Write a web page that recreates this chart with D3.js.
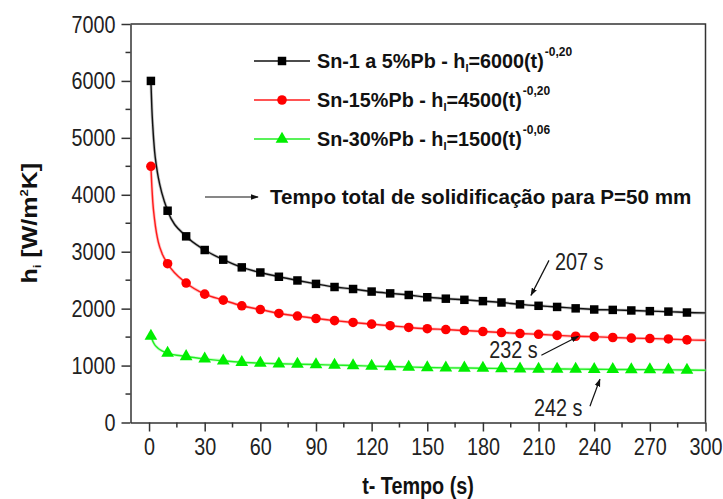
<!DOCTYPE html>
<html><head><meta charset="utf-8">
<script src="https://cdn.jsdelivr.net/npm/d3@7"></script>
<style>
body{margin:0;background:#fff}
svg{display:block}
text{font-family:"Liberation Sans",Arial,sans-serif}
</style>
</head><body>
<svg id="chart" width="723" height="499"></svg>
<script>
// ---- data ----
const times = [1,10,20,30,40,50,60,70,80,90,100,110,120,130,140,150,160,170,180,190,200,210,220,230,240,250,260,270,280,290];
const sn5  = [6000,3720,3270,3030,2860,2725,2635,2560,2495,2435,2380,2345,2300,2268,2240,2200,2175,2155,2132,2108,2075,2050,2030,2005,1985,1978,1968,1956,1948,1932];
const sn15 = [4500,2790,2450,2255,2150,2050,1984,1915,1870,1826,1790,1757,1728,1700,1670,1648,1633,1615,1598,1580,1563,1550,1530,1515,1508,1493,1482,1475,1468,1452];
const sn30 = [1520,1220,1160,1118,1085,1058,1043,1031,1025,1018,1008,1001,990,983,975,966,960,958,954,948,943,940,940,938,935,932,930,929,925,922];
// fitted-curve samples in the steep early part and at the right edge
const fitTimes = [1,1.5,2,3,4,5,7];
const fitSn5  = [6000,5530,5210,4760,4500,4300,4020];
const fitSn15 = [4500,4150,3880,3560,3330,3170,2970];
const fitSn30 = [1520,1470,1430,1370,1330,1300,1260];
const endTime = 300;
const endValues = [1925,1445,918];

const xTicks = [0,30,60,90,120,150,180,210,240,270,300];
const xMinor = [15,45,75,105,135,165,195,225,255,285];
const yTicks = [0,1000,2000,3000,4000,5000,6000,7000];
const yMinor = [500,1500,2500,3500,4500,5500,6500];

const seriesLabels = ["Sn-1 a 5%Pb - h","Sn-15%Pb - h","Sn-30%Pb - h"];
const seriesCoefs = ["=6000(t)","=4500(t)","=1500(t)"];
const seriesExps = ["-0,20","-0,20","-0,06"];
const seriesColors = ["#000000","#ff0000","#00ee00"];
const lineColors = ["#111111","#ff1a1a","#22ee22"];
const haloColors = ["#9a9a9a","#ff9a9a","#a8ffa8"];
const markerShapes = [d3.symbolSquare, d3.symbolCircle, d3.symbolTriangle];

const noteText = "Tempo total de solidificação para P=50 mm";
const annTimes = [207,232,242];
const annLabels = ["207 s","232 s","242 s"];

// ---- layout ----
const svg = d3.select("#chart");
const L = 130.5, R = 705.5, T = 24, B = 422.5;
const x = d3.scaleLinear().domain([-10,300]).range([L,R]);
const y = d3.scaleLinear().domain([0,7000]).range([B,T]);
const axisColor = "#333";
const SX = 0.86;

// frame (top & right)
svg.append("path").attr("d",`M${L},${T}H${R}V${B}`).attr("fill","none").attr("stroke",axisColor).attr("stroke-width",1.5);

// x axis
const gx = svg.append("g").attr("transform",`translate(0,${B})`)
  .call(d3.axisBottom(x).tickValues(xTicks).tickSize(9).tickPadding(7).tickFormat(d3.format("d")).tickSizeOuter(0));
gx.select(".domain").attr("stroke",axisColor).attr("stroke-width",1.5);
gx.selectAll(".tick line").attr("stroke",axisColor).attr("stroke-width",1.5);
gx.selectAll(".tick text").attr("font-size",23).attr("fill","#222")
  .attr("font-family","Liberation Sans, Arial, sans-serif")
  .attr("transform",`scale(${SX},1)`);
gx.selectAll(".minor").data(xMinor).enter().append("line")
  .attr("x1",d=>x(d)).attr("x2",d=>x(d)).attr("y1",0).attr("y2",5)
  .attr("stroke",axisColor).attr("stroke-width",1.5);

// y axis
const gy = svg.append("g").attr("transform",`translate(${L},0)`)
  .call(d3.axisLeft(y).tickValues(yTicks).tickSize(9).tickPadding(7).tickFormat(d3.format("d")).tickSizeOuter(0));
gy.select(".domain").attr("stroke",axisColor).attr("stroke-width",1.5);
gy.selectAll(".tick line").attr("stroke",axisColor).attr("stroke-width",1.5);
gy.selectAll(".tick text").attr("font-size",23).attr("fill","#222")
  .attr("font-family","Liberation Sans, Arial, sans-serif")
  .attr("x",-15/SX).attr("dy","0.35em")
  .attr("transform",`scale(${SX},1)`);
gy.selectAll(".minor").data(yMinor).enter().append("line")
  .attr("x1",0).attr("x2",-5).attr("y1",d=>y(d)).attr("y2",d=>y(d))
  .attr("stroke",axisColor).attr("stroke-width",1.5);

// series
const seriesVals = [sn5, sn15, sn30];
const fitVals = [fitSn5, fitSn15, fitSn30];
const line = d3.line().x(d=>x(d[0])).y(d=>y(d[1])).curve(d3.curveMonotoneX);
seriesVals.forEach((vals,i)=>{
  const pts = fitTimes.map((t,j)=>[t,fitVals[i][j]])
    .concat(times.slice(1).map((t,j)=>[t,vals[j+1]]))
    .concat([[endTime,endValues[i]]]);
  svg.append("path").datum(pts).attr("d",line).attr("fill","none")
    .attr("stroke",haloColors[i]).attr("stroke-width",3).attr("stroke-opacity",0.6);
  svg.append("path").datum(pts).attr("d",line).attr("fill","none")
    .attr("stroke",lineColors[i]).attr("stroke-width",1.4);
});
const sizes = [72,72,70];
seriesVals.forEach((vals,i)=>{
  svg.append("g").selectAll("path").data(times.map((t,j)=>[t,vals[j]])).enter().append("path")
    .attr("d",d3.symbol().type(markerShapes[i]).size(sizes[i]))
    .attr("transform",d=>`translate(${x(d[0])},${y(d[1])})`)
    .attr("fill",seriesColors[i]);
});

// legend
const legY = [61,100,139];
seriesLabels.forEach((lab,i)=>{
  const g = svg.append("g").attr("transform",`translate(0,${legY[i]})`);
  g.append("line").attr("x1",254).attr("x2",310).attr("y1",0).attr("y2",0)
    .attr("stroke",lineColors[i]).attr("stroke-width",1.4);
  g.append("path").attr("d",d3.symbol().type(markerShapes[i]).size(sizes[i]))
    .attr("transform","translate(282,0)").attr("fill",seriesColors[i]);
  const t = g.append("text").attr("x",317).attr("y",7).attr("font-size",19.8)
    .attr("font-weight","bold").attr("fill","#111");
  t.append("tspan").text(lab);
  t.append("tspan").attr("font-size",11).attr("dy",4).text("I");
  t.append("tspan").attr("dy",-4).text(seriesCoefs[i]);
  t.append("tspan").attr("font-size",12).attr("dy",-12).attr("dx",1).text(seriesExps[i]);
});

// note with arrow
const defs = svg.append("defs");
defs.append("marker").attr("id","ah").attr("viewBox","0 0 10 10").attr("refX",9).attr("refY",5)
  .attr("markerWidth",8).attr("markerHeight",8).attr("orient","auto").attr("markerUnits","userSpaceOnUse")
  .append("path").attr("d","M0,1.5L10,5L0,8.5Z").attr("fill","#111");
svg.append("line").attr("x1",205).attr("x2",258).attr("y1",197).attr("y2",197)
  .attr("stroke","#111").attr("stroke-width",1.2).attr("marker-end","url(#ah)");
svg.append("text").attr("x",270).attr("y",204).attr("font-size",20.6).attr("font-weight","bold")
  .attr("fill","#111").text(noteText);

// annotations: arrows pointing at solidification times on each curve
const annSeries = [sn5, sn15, sn30];
function valAt(vals,t){ return d3.scaleLinear().domain(times).range(vals)(t); }
const annTip = annTimes.map((t,i)=>[x(t), y(valAt(annSeries[i],t))]);
const annDef = [
  {tail:[18,-35], tipOff:[-2,-10], tx:[22,-43]},
  {tail:[-37,19], tipOff:[-1,0], tx:[-90,14]},
  {tail:[-10,27], tipOff:[2,10], tx:[-64,39]}
];
annTip.forEach((p,i)=>{
  const a = annDef[i];
  const tip = [p[0]+a.tipOff[0], p[1]+a.tipOff[1]];
  svg.append("line").attr("x1",tip[0]+a.tail[0]).attr("y1",tip[1]+a.tail[1])
    .attr("x2",tip[0]).attr("y2",tip[1]).attr("stroke","#111").attr("stroke-width",1.2)
    .attr("marker-end","url(#ah)");
  svg.append("text").attr("transform",`translate(${p[0]+a.tx[0]},${p[1]+a.tx[1]+8}) scale(${SX},1)`)
    .attr("font-size",23).attr("fill","#222").text(annLabels[i]);
});

// axis titles
svg.append("text").attr("transform",`translate(${(L+R)/2},494) scale(${SX},1)`).attr("text-anchor","middle")
  .attr("font-size",23).attr("font-weight","bold").attr("fill","#111").text("t- Tempo (s)");
const yt = svg.append("text").attr("transform",`translate(37,${(T+B)/2}) scale(${SX},1) rotate(-90)`).attr("text-anchor","middle")
  .attr("font-size",25).attr("font-weight","bold").attr("fill","#111");
yt.append("tspan").text("h");
yt.append("tspan").attr("font-size",13).attr("dy",5).text("i");
yt.append("tspan").attr("dy",-5).text(" [W/m");
yt.append("tspan").attr("font-size",13).attr("dy",-11).text("2");
yt.append("tspan").attr("dy",11).text("K]");
</script>
</body></html>
